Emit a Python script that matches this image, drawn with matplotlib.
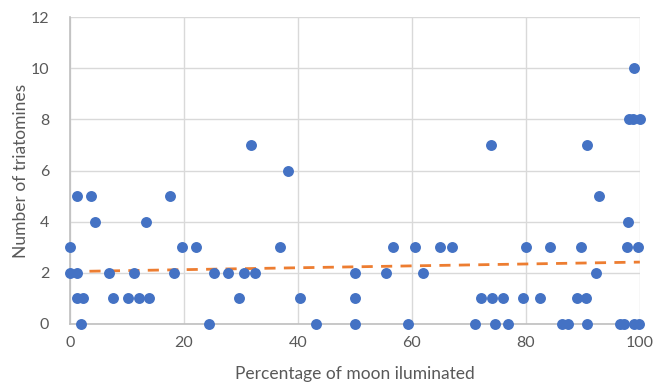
import numpy as np
import matplotlib
matplotlib.use("Agg")
import matplotlib.pyplot as plt

plt.rcParams['font.family'] = ['Lato', 'DejaVu Sans']

# moon illumination (%) and triatomine counts per night
moon_pct = [0.0, 0.0, 1.2, 1.3, 1.2, 2.3, 1.9, 3.6, 4.4, 6.8, 7.5,
            10.1, 11.3, 12.1, 13.3, 13.9, 17.5, 18.2, 19.6, 22.1, 24.4,
            25.2, 27.7, 29.6, 30.6, 31.8, 32.5, 36.9, 38.2, 40.3, 43.1,
            50.0, 50.0, 50.0, 55.4, 56.6, 59.3, 60.6, 62.0, 65.0, 67.0,
            71.0, 72.1, 73.8, 74.1, 74.6, 76.0, 76.8, 79.5, 80.1, 82.4,
            84.3, 86.4, 87.4, 88.9, 89.7, 90.5, 90.8, 90.7, 92.3, 92.9,
            96.5, 97.2, 97.7, 97.9, 98.1, 98.8, 98.9, 99.0, 99.7, 100.0,
            99.8]
triatomines = [3, 2, 2, 5, 1, 1, 0, 5, 4, 2, 1,
               1, 2, 1, 4, 1, 5, 2, 3, 3, 0,
               2, 2, 1, 2, 7, 2, 3, 6, 1, 0,
               2, 1, 0, 2, 3, 0, 3, 2, 3, 3,
               0, 1, 7, 1, 0, 1, 0, 1, 3, 1,
               3, 0, 0, 1, 3, 1, 7, 0, 2, 5,
               0, 0, 3, 4, 8, 8, 10, 0, 3, 8,
               0]

# linear trendline (intercept, slope) over the full record
trend_intercept = 2.05
trend_slope = 0.0037

x_ticks = [0, 20, 40, 60, 80, 100]
y_ticks = [0, 2, 4, 6, 8, 10, 12]

fig = plt.figure(figsize=(6.7, 3.88), dpi=100)
ax = fig.add_axes([0.1045, 0.165, 0.8505, 0.791])

grey_txt = '#595959'
ax.grid(True, color='#d9d9d9', linewidth=1.0)
ax.set_axisbelow(True)

ax.scatter(moon_pct, triatomines, s=62, color='#4472C4', zorder=3,
           clip_on=False, linewidths=0)

xs = np.array([0, 100])
ax.plot(xs, trend_intercept + trend_slope * xs, color='#ED7D31', linewidth=2.0,
        linestyle=(0, (4, 3)), zorder=2)

ax.set_xlim(0, 100)
ax.set_ylim(0, 12)
ax.set_xticks(x_ticks)
ax.set_yticks(y_ticks)
ax.tick_params(axis='x', length=0, labelsize=11.5, colors=grey_txt, pad=9)
ax.tick_params(axis='y', length=0, labelsize=11.5, colors=grey_txt, pad=15)

for s in ['top', 'right']:
    ax.spines[s].set_visible(False)
for s in ['left', 'bottom']:
    ax.spines[s].set_color('#bfbfbf')
    ax.spines[s].set_linewidth(1.2)

ax.set_xlabel('Percentage of moon iluminated', fontsize=12.5, color=grey_txt, labelpad=11)
ax.set_ylabel('Number of triatomines', fontsize=12.5, color=grey_txt, labelpad=1)

fig.savefig('out.png', dpi=100)
